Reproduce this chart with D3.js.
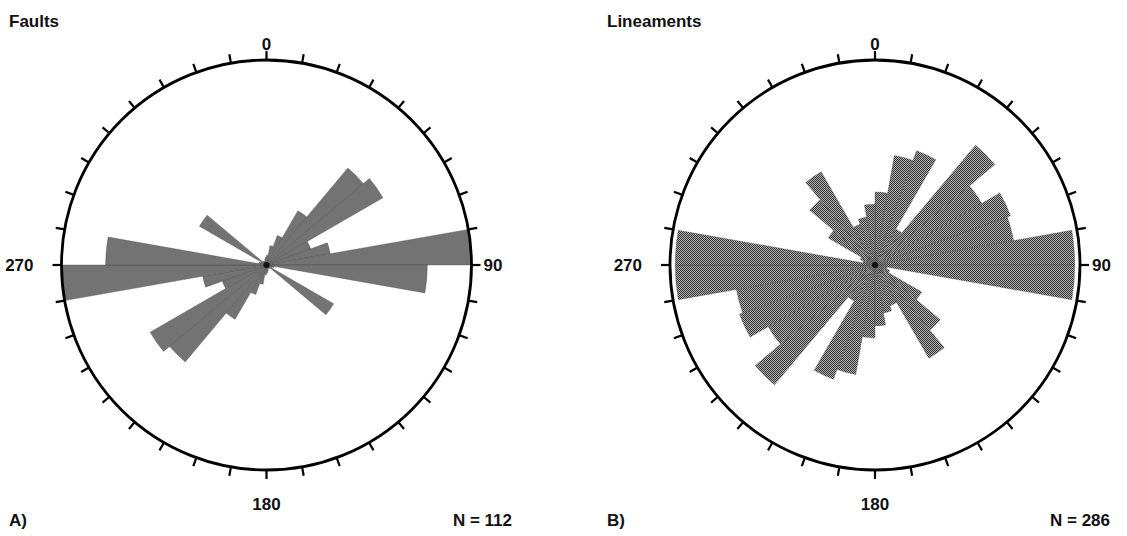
<!DOCTYPE html>
<html>
<head>
<meta charset="utf-8">
<script src="https://cdn.jsdelivr.net/npm/d3@7"></script>
<style>
  body { margin: 0; background: #fff; }
  svg { display: block; }
  text { font-family: "Liberation Sans", Arial, sans-serif; font-weight: bold; fill: #111; }
</style>
</head>
<body>
<div id="chart"></div>
<script>
// azimuth bins (start of each 10 degree class, 0-180); rose is bidirectional,
// so each class is also drawn at +180
const binStarts = [0, 10, 20, 30, 40, 50, 60, 70, 80, 90, 100, 110, 120, 130, 140, 150, 160, 170];
const binWidth = 10;

// frequency (% of readings) per class
const faultsPct = [1.0, 2.0, 3.2, 6.4, 12.9, 13.7, 4.8, 6.6, 20.9, 16.4, 0.8, 0.6, 7.9, 0.5, 0.4, 0.4, 0.6, 0.8];
const lineamentsPct = [4.2, 6.4, 7.0, 2.4, 9.0, 7.1, 8.3, 8.1, 11.5, 11.5, 0.7, 0.9, 3.1, 4.9, 6.2, 2.5, 2.8, 3.5];

// outer circle value for each rose
const faultsMax = 20.9;
const lineamentsMax = 11.8;

const titles = ["Faults", "Lineaments"];
const letters = ["A)", "B)"];
const counts = [112, 286];
const compassLabels = [{az: 0, text: "0"}, {az: 90, text: "90"}, {az: 180, text: "180"}, {az: 270, text: "270"}];

const width = 1127, height = 536;
const R = 205;

const svg = d3.select("#chart").append("svg")
    .attr("width", width)
    .attr("height", height)
    .attr("viewBox", [0, 0, width, height]);

// halftone-like grey for the petals
const pat = svg.append("defs").append("pattern")
    .attr("id", "dots")
    .attr("patternUnits", "userSpaceOnUse")
    .attr("width", 2).attr("height", 2);
pat.append("rect").attr("width", 2).attr("height", 2).attr("fill", "#b2b2b2");
pat.append("rect").attr("width", 1).attr("height", 1).attr("fill", "#343434");
pat.append("rect").attr("x", 1).attr("y", 1).attr("width", 1).attr("height", 1).attr("fill", "#343434");

const panels = [
  {title: titles[0], letter: letters[0], n: counts[0], values: faultsPct, max: faultsMax, cx: 266.5, cy: 265, left: 9, right: 512},
  {title: titles[1], letter: letters[1], n: counts[1], values: lineamentsPct, max: lineamentsMax, cx: 875, cy: 265, left: 607, right: 1110}
];

const angle = d3.scaleLinear().domain([0, 360]).range([0, 2 * Math.PI]);
const arc = d3.arc().innerRadius(0);

panels.forEach(p => {
  const radius = d3.scaleLinear().domain([0, p.max]).range([0, R]);
  const petals = binStarts.flatMap((b, i) => [
    {az: b, value: p.values[i]},
    {az: b + 180, value: p.values[i]}
  ]);

  const g = svg.append("g").attr("transform", `translate(${p.cx},${p.cy})`);

  g.append("g")
    .selectAll("path")
    .data(petals)
    .join("path")
      .attr("d", d => arc({
        outerRadius: radius(d.value),
        startAngle: angle(d.az),
        endAngle: angle(d.az + binWidth)
      }))
      .attr("fill", "url(#dots)")
      .attr("stroke", "#444")
      .attr("stroke-width", 0.35);

  // dark knot at the centre
  g.append("circle").attr("r", 3).attr("fill", "#111");

  // outer circle and 10 degree ticks
  g.append("circle")
    .attr("r", R)
    .attr("fill", "none")
    .attr("stroke", "#000")
    .attr("stroke-width", 2.8);

  g.append("g")
    .selectAll("line")
    .data(d3.range(0, 360, 10))
    .join("line")
      .attr("x1", d => R * Math.sin(angle(d)))
      .attr("y1", d => -R * Math.cos(angle(d)))
      .attr("x2", d => (R + 9) * Math.sin(angle(d)))
      .attr("y2", d => -(R + 9) * Math.cos(angle(d)))
      .attr("stroke", "#000")
      .attr("stroke-width", 2.2);

  g.selectAll("text.compass")
    .data(compassLabels)
    .join("text")
      .attr("class", "compass")
      .attr("font-size", 17)
      .attr("text-anchor", d => d.az === 90 ? "start" : d.az === 270 ? "end" : "middle")
      .attr("x", d => d.az === 90 ? R + 12 : d.az === 270 ? -R - 28 : 0)
      .attr("y", d => d.az === 0 ? -R - 10 : d.az === 180 ? R + 40 : 6)
      .text(d => d.text);

  svg.append("text")
    .attr("x", p.left).attr("y", 27)
    .attr("font-size", 17)
    .text(p.title);

  svg.append("text")
    .attr("x", p.left).attr("y", 526)
    .attr("font-size", 17)
    .text(p.letter);

  svg.append("text")
    .attr("x", p.right).attr("y", 526)
    .attr("text-anchor", "end")
    .attr("font-size", 17)
    .text(`N = ${p.n}`);
});
</script>
</body>
</html>
